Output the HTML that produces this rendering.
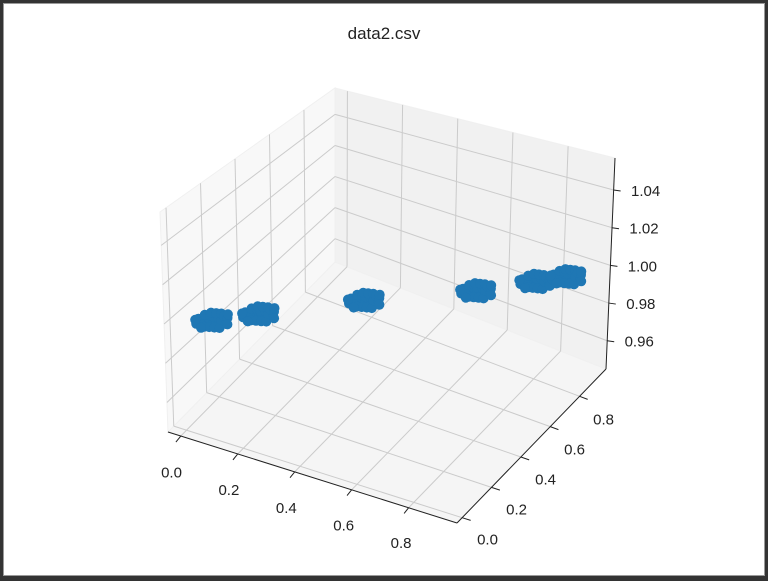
<!DOCTYPE html>
<html><head><meta charset="utf-8"><style>
html,body{margin:0;padding:0;background:#2b2b2b;}
#wrap{position:absolute;left:0;top:0;width:768px;height:581px;}
svg{position:absolute;left:0;top:0;}
text{font-family:"Liberation Sans","DejaVu Sans",sans-serif;fill:#222;}
</style></head><body>
<div id="wrap">
<svg id="chart" width="768" height="581" viewBox="0 0 768 581">
<rect x="0" y="0" width="768" height="581" fill="#333"/>
<rect x="3.5" y="3.5" width="761" height="572" fill="#fff" stroke="#9a9a9a" stroke-width="1"/>
<text x="384" y="39" text-anchor="middle" font-size="17">data2.csv</text>
<g id="panes"></g>
<g id="grid"></g>
<g id="axes"></g>
<g id="points"></g>
</svg>
</div>
<script>
// data
const clusterX = [0.075, 0.18, 0.42, 0.69, 0.82, 0.89];
const clusterY = [0.04, 0.14, 0.37, 0.60, 0.75, 0.83];
const clusterZ = [1.0, 1.0, 1.0, 1.0, 1.0, 1.0];
const offX = [-0.045,-0.03,-0.015,0,0.015,0.03,0.045,-0.035,-0.02,-0.005,0.01,0.025,0.04,-0.04,-0.025,-0.01,0.005,0.02,0.035,-0.03,-0.015,0,0.015,0.03,0.05,-0.05,-0.01,0.02];
const offY = [0,0.005,-0.005,0.01,0,0.005,0.01,-0.03,-0.025,-0.035,-0.03,-0.025,-0.02,0.03,0.035,0.03,0.035,0.025,0.03,0.05,0.055,0.06,0.05,0.045,0.01,-0.01,-0.045,0.065];
const xTicks = [0.0,0.2,0.4,0.6,0.8];
const yTicks = [0.0,0.2,0.4,0.6,0.8];
const zTicks = [0.96,0.98,1.00,1.02,1.04];
const xTickLabels = ["0.0","0.2","0.4","0.6","0.8"];
const yTickLabels = ["0.0","0.2","0.4","0.6","0.8"];
const zTickLabels = ["0.96","0.98","1.00","1.02","1.04"];

const XR=[-0.045,0.97], YR=[-0.035,0.98], ZR=[0.945,1.057];
const cb={A:[168,432],B:[457,523],C:[606,369],D:[335,262]};
const ct={A:[160,212],B:[460,271],C:[615,158],D:[335,88]};
function bil(q,u,v){
  const a=q.A,b=q.B,c=q.C,d=q.D;
  return [ (1-u)*(1-v)*a[0]+u*(1-v)*b[0]+u*v*c[0]+(1-u)*v*d[0],
           (1-u)*(1-v)*a[1]+u*(1-v)*b[1]+u*v*c[1]+(1-u)*v*d[1] ];
}
function P(x,y,z){
  const u=(x-XR[0])/(XR[1]-XR[0]), v=(y-YR[0])/(YR[1]-YR[0]), w=(z-ZR[0])/(ZR[1]-ZR[0]);
  const b=bil(cb,u,v), t=bil(ct,u,v);
  return [b[0]+(t[0]-b[0])*w, b[1]+(t[1]-b[1])*w];
}
const NS='http://www.w3.org/2000/svg';
function mk(tag,attrs,parent){const e=document.createElementNS(NS,tag);for(const k in attrs)e.setAttribute(k,attrs[k]);parent.appendChild(e);return e;}
function poly(pts){return pts.map(p=>p[0].toFixed(1)+','+p[1].toFixed(1)).join(' ');}
const panes=document.getElementById('panes'),grid=document.getElementById('grid'),axes=document.getElementById('axes'),pts=document.getElementById('points');
let e;
e=mk('polygon',{points:poly([P(XR[0],YR[0],ZR[0]),P(XR[1],YR[0],ZR[0]),P(XR[1],YR[1],ZR[0]),P(XR[0],YR[1],ZR[0])]),fill:'#f5f5f5',stroke:'#f0f0f0'},panes);


e=mk('polygon',{points:poly([P(XR[0],YR[0],ZR[0]),P(XR[0],YR[1],ZR[0]),P(XR[0],YR[1],ZR[1]),P(XR[0],YR[0],ZR[1])]),fill:'#f8f8f8',stroke:'#f0f0f0'},panes);


e=mk('polygon',{points:poly([P(XR[0],YR[1],ZR[0]),P(XR[1],YR[1],ZR[0]),P(XR[1],YR[1],ZR[1]),P(XR[0],YR[1],ZR[1])]),fill:'#f1f1f1',stroke:'#f0f0f0'},panes);


function gl(p1,p2,name){const l=mk('line',{x1:p1[0],y1:p1[1],x2:p2[0],y2:p2[1],stroke:'#cbcbcb','stroke-width':1},grid);
 
 }
xTicks.forEach(x=>{gl(P(x,YR[0],ZR[0]),P(x,YR[1],ZR[0]),'x-grid-floor');gl(P(x,YR[1],ZR[0]),P(x,YR[1],ZR[1]),'x-grid-back');});
yTicks.forEach(y=>{gl(P(XR[0],y,ZR[0]),P(XR[1],y,ZR[0]),'y-grid-floor');gl(P(XR[0],y,ZR[0]),P(XR[0],y,ZR[1]),'y-grid-left');});
zTicks.forEach(z=>{gl(P(XR[0],YR[0],z),P(XR[0],YR[1],z),'z-grid-left');gl(P(XR[0],YR[1],z),P(XR[1],YR[1],z),'z-grid-back');});
function al(p1,p2,name){const l=mk('line',{x1:p1[0],y1:p1[1],x2:p2[0],y2:p2[1],stroke:'#222','stroke-width':1},axes);
 
 }
al(P(XR[0],YR[0],ZR[0]),P(XR[1],YR[0],ZR[0]),'x-axis-line');
al(P(XR[1],YR[0],ZR[0]),P(XR[1],YR[1],ZR[0]),'y-axis-line');
al(P(XR[1],YR[1],ZR[0]),P(XR[1],YR[1],ZR[1]),'z-axis-line');
function lbl(p,s,name){const t=mk('text',{x:p[0].toFixed(1),y:p[1].toFixed(1),'font-size':15,'text-anchor':'middle'},axes);t.textContent=s;
 
 }
xTicks.forEach((x,i)=>{const a=P(x,YR[0],ZR[0]);const b=P(x,YR[0]-0.03,ZR[0]);al([a[0],a[1]],[b[0],b[1]+1],'x-tick');const c=P(x,YR[0]-0.13,ZR[0]);lbl([c[0]+12,c[1]+20],xTickLabels[i],'x-tick-label');});
yTicks.forEach((y,i)=>{const a=P(XR[1],y,ZR[0]);const b=P(XR[1]+0.03,y,ZR[0]);al(a,b,'y-tick');const c=P(XR[1]+0.1,y,ZR[0]);lbl([c[0]-3,c[1]+18],yTickLabels[i],'y-tick-label');});
zTicks.forEach((z,i)=>{const a=P(XR[1],YR[1],z);al(a,[a[0]+7,a[1]+1],'z-tick');lbl([a[0]+32,a[1]+6],zTickLabels[i],'z-tick-label');});
clusterX.forEach((cx,ci)=>{
  offX.forEach((ox,j)=>{
    const p=P(cx+ox,clusterY[ci]+offY[j],clusterZ[ci]);
    const c=mk('circle',{cx:p[0].toFixed(1),cy:p[1].toFixed(1),r:5,fill:'#1f77b4'},pts);
    
    
  });
});
</script>
</body></html>
